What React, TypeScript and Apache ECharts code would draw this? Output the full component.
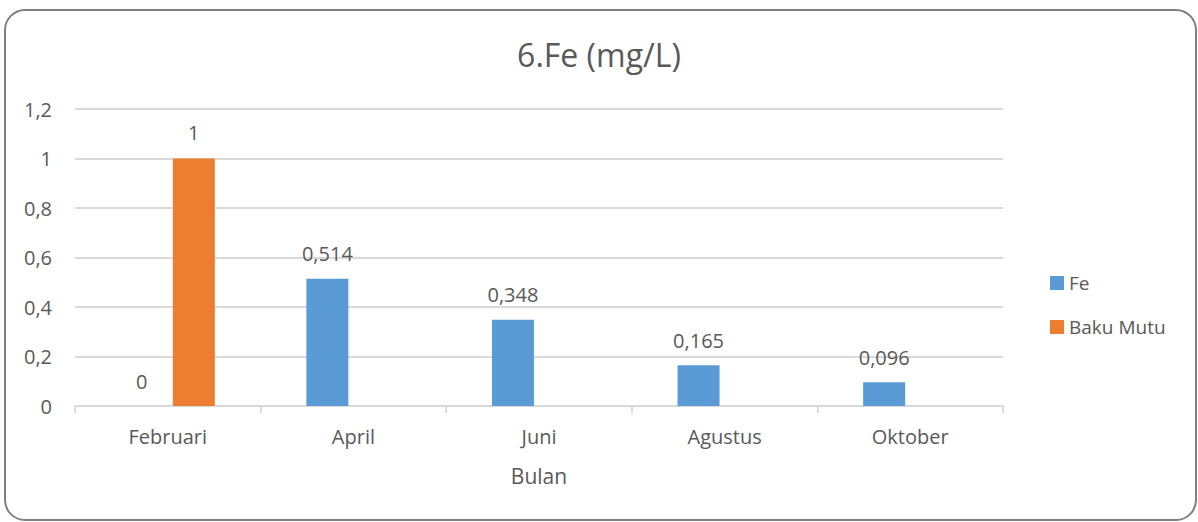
import React, { useEffect, useRef } from "react";
import * as echarts from "echarts";

const categories = ["Februari", "April", "Juni", "Agustus", "Oktober"];
const feValues = [0, 0.514, 0.348, 0.165, 0.096];
const bakuMutuValues: (number | null)[] = [1, null, null, null, null];
const yTicks = { min: 0, max: 1.2, interval: 0.2 };

const FONT = "'Open Sans', 'Noto Sans', sans-serif";
const TXT = "#595959";

const fmt = (v: number) => String(+Number(v).toFixed(3)).replace(".", ",");

export default function App() {
  const ref = useRef<HTMLDivElement>(null);
  useEffect(() => {
    const chart = echarts.init(ref.current!, null, { renderer: "svg" });
    chart.setOption({
      animation: false,
      textStyle: { fontFamily: FONT },
      title: {
        text: "6.Fe (mg/L)",
        left: "center",
        top: 33,
        textStyle: { fontFamily: FONT, fontSize: 32, fontWeight: "normal", color: TXT },
      },
      graphic: [
        {
          type: "rect",
          shape: { x: 5, y: 10, width: 1191, height: 510, r: 20 },
          style: { fill: "none", stroke: "#7f7f7f", lineWidth: 2 },
          silent: true,
        },
      ],
      legend: {
        orient: "vertical",
        left: 1045,
        top: 265,
        itemWidth: 14,
        itemHeight: 14,
        itemGap: 18,
        icon: "rect",
        textStyle: { fontFamily: FONT, fontSize: 19, color: TXT, lineHeight: 26 },
        data: ["Fe", "Baku Mutu"],
      },
      grid: { left: 75, right: 195, top: 109, bottom: 116 },
      xAxis: {
        type: "category",
        data: categories,
        name: "Bulan",
        nameLocation: "middle",
        nameGap: 59,
        nameTextStyle: { fontFamily: FONT, fontSize: 21, color: TXT },
        axisLine: { lineStyle: { color: "#d9d9d9", width: 2 } },
        axisTick: { show: true, length: 7, lineStyle: { color: "#d9d9d9", width: 2 } },
        axisLabel: { fontFamily: FONT, fontSize: 20, color: TXT, margin: 20 },
      },
      yAxis: {
        type: "value",
        min: yTicks.min,
        max: yTicks.max,
        interval: yTicks.interval,
        axisLine: { show: false },
        axisTick: { show: false },
        axisLabel: { fontFamily: FONT, fontSize: 20, color: TXT, margin: 23, formatter: fmt },
        splitLine: { lineStyle: { color: "#d9d9d9", width: 2 } },
      },
      series: [
        {
          name: "Fe",
          type: "bar",
          data: feValues,
          barWidth: 42,
          barGap: "24%",
          itemStyle: { color: "#5b9bd5" },
          label: {
            show: true,
            position: "top",
            distance: 15,
            fontFamily: FONT,
            fontSize: 20,
            color: TXT,
            formatter: (p: any) => fmt(p.value),
          },
        },
        {
          name: "Baku Mutu",
          type: "bar",
          data: bakuMutuValues,
          barWidth: 42,
          itemStyle: { color: "#ed7d31" },
          label: {
            show: true,
            position: "top",
            distance: 16,
            fontFamily: FONT,
            fontSize: 20,
            color: TXT,
            formatter: (p: any) => (p.value == null ? "" : fmt(p.value)),
          },
        },
      ],
    });
    return () => chart.dispose();
  }, []);
  return (
    <div
      ref={ref}
      style={{ position: "fixed", left: 0, top: 0, width: 1198, height: 522, background: "#fff" }}
    />
  );
}
